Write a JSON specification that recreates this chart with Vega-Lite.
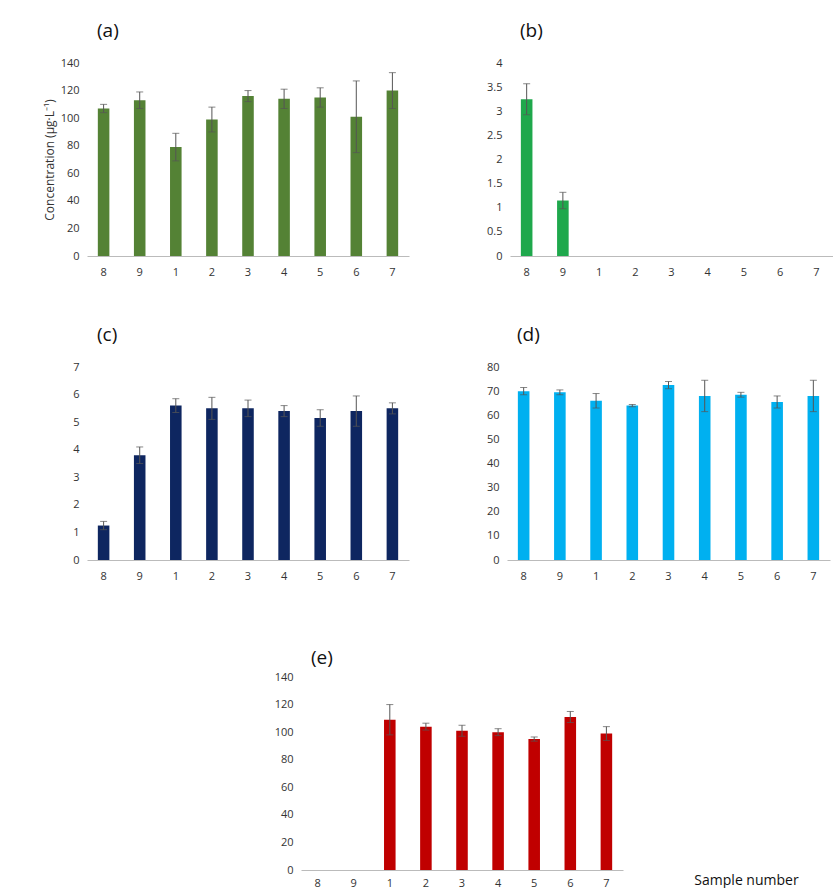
{
  "$schema": "https://vega.github.io/schema/vega-lite/v6.json",
  "background": "white",
  "padding": {"left": 43, "top": 22, "right": 0, "bottom": 0},
  "datasets": {
    "all": [
      {"p": "a", "s": "8", "v": 107, "e": 3}, {"p": "a", "s": "9", "v": 113, "e": 6}, {"p": "a", "s": "1", "v": 79, "e": 10},
      {"p": "a", "s": "2", "v": 99, "e": 9}, {"p": "a", "s": "3", "v": 116, "e": 4}, {"p": "a", "s": "4", "v": 114, "e": 7},
      {"p": "a", "s": "5", "v": 115, "e": 7}, {"p": "a", "s": "6", "v": 101, "e": 26}, {"p": "a", "s": "7", "v": 120, "e": 13},
      {"p": "b", "s": "8", "v": 3.25, "e": 0.32}, {"p": "b", "s": "9", "v": 1.15, "e": 0.17}, {"p": "b", "s": "1", "v": 0, "e": 0},
      {"p": "b", "s": "2", "v": 0, "e": 0}, {"p": "b", "s": "3", "v": 0, "e": 0}, {"p": "b", "s": "4", "v": 0, "e": 0},
      {"p": "b", "s": "5", "v": 0, "e": 0}, {"p": "b", "s": "6", "v": 0, "e": 0}, {"p": "b", "s": "7", "v": 0, "e": 0},
      {"p": "c", "s": "8", "v": 1.25, "e": 0.15}, {"p": "c", "s": "9", "v": 3.8, "e": 0.3}, {"p": "c", "s": "1", "v": 5.6, "e": 0.25},
      {"p": "c", "s": "2", "v": 5.5, "e": 0.4}, {"p": "c", "s": "3", "v": 5.5, "e": 0.3}, {"p": "c", "s": "4", "v": 5.4, "e": 0.2},
      {"p": "c", "s": "5", "v": 5.15, "e": 0.3}, {"p": "c", "s": "6", "v": 5.4, "e": 0.55}, {"p": "c", "s": "7", "v": 5.5, "e": 0.2},
      {"p": "d", "s": "8", "v": 70, "e": 1.5}, {"p": "d", "s": "9", "v": 69.5, "e": 1}, {"p": "d", "s": "1", "v": 66, "e": 3},
      {"p": "d", "s": "2", "v": 64, "e": 0.5}, {"p": "d", "s": "3", "v": 72.5, "e": 1.5}, {"p": "d", "s": "4", "v": 68, "e": 6.5},
      {"p": "d", "s": "5", "v": 68.5, "e": 1}, {"p": "d", "s": "6", "v": 65.5, "e": 2.5}, {"p": "d", "s": "7", "v": 68, "e": 6.5},
      {"p": "e", "s": "8", "v": 0, "e": 0}, {"p": "e", "s": "9", "v": 0, "e": 0}, {"p": "e", "s": "1", "v": 109, "e": 11},
      {"p": "e", "s": "2", "v": 104, "e": 2.5}, {"p": "e", "s": "3", "v": 101, "e": 4}, {"p": "e", "s": "4", "v": 100, "e": 2.5},
      {"p": "e", "s": "5", "v": 95, "e": 1.5}, {"p": "e", "s": "6", "v": 111, "e": 4}, {"p": "e", "s": "7", "v": 99, "e": 5}
    ]
  },
  "config": {
    "font": "Open Sans",
    "view": {"stroke": null},
    "axis": {"grid": false, "ticks": false, "labelFontSize": 11, "labelColor": "#333", "titleFontWeight": "normal", "titleFontSize": 12, "titleColor": "#333", "labelOverlap": false},
    "axisY": {"domain": false, "labelPadding": 8, "format": "~r"},
    "axisX": {"domainColor": "#bbb", "labelAngle": 0, "labelPadding": 10},
    "title": {"anchor": "start", "frame": "group", "fontSize": 19, "fontWeight": "normal", "color": "#111", "dx": 10, "offset": 16},
    "concat": {"spacing": 49}
  },
  "vconcat": [
    {
      "hconcat": [
        {
          "title": "(a)", "width": 322, "height": 193,
          "data": {"name": "all"}, "transform": [{"filter": "datum.p === 'a'"}, {"calculate": "datum.v + datum.e", "as": "hi"}, {"calculate": "datum.v - datum.e", "as": "lo"}],
          "encoding": {"x": {"field": "s", "type": "nominal", "sort": ["8","9","1","2","3","4","5","6","7"], "title": null, "scale": {"paddingInner": 0.68, "paddingOuter": 0.3}}},
          "layer": [
            {"mark": {"type": "bar", "color": "#548235"}, "encoding": {"y": {"field": "v", "type": "quantitative", "scale": {"domain": [0, 140]}, "axis": {"values": [0,20,40,60,80,100,120,140], "labelOverlap": false}, "title": "Concentration (µg·L⁻¹)"}}},
            {"transform": [{"filter": "datum.e > 0"}], "mark": {"type": "errorbar", "ticks": {"size": 7}, "color": "#555"}, "encoding": {"y": {"field": "hi", "type": "quantitative", "axis": {"values": [0,20,40,60,80,100,120,140], "labelOverlap": false}, "title": "Concentration (µg·L⁻¹)"}, "y2": {"field": "lo"}}}
          ]
        },
        {
          "title": "(b)", "width": 323, "height": 193,
          "data": {"name": "all"}, "transform": [{"filter": "datum.p === 'b'"}, {"calculate": "datum.v + datum.e", "as": "hi"}, {"calculate": "datum.v - datum.e", "as": "lo"}],
          "encoding": {"x": {"field": "s", "type": "nominal", "sort": ["8","9","1","2","3","4","5","6","7"], "title": null, "scale": {"paddingInner": 0.68, "paddingOuter": 0.3}}},
          "layer": [
            {"mark": {"type": "bar", "color": "#1fa84c"}, "encoding": {"y": {"field": "v", "type": "quantitative", "scale": {"domain": [0, 4]}, "axis": {"values": [0,0.5,1,1.5,2,2.5,3,3.5,4], "labelOverlap": false}, "title": null}}},
            {"transform": [{"filter": "datum.e > 0"}], "mark": {"type": "errorbar", "ticks": {"size": 7}, "color": "#555"}, "encoding": {"y": {"field": "hi", "type": "quantitative", "axis": {"values": [0,0.5,1,1.5,2,2.5,3,3.5,4], "labelOverlap": false}, "title": null}, "y2": {"field": "lo"}}}
          ]
        }
      ],
      "spacing": 77
    },
    {
      "hconcat": [
        {
          "title": "(c)", "width": 322, "height": 193,
          "data": {"name": "all"}, "transform": [{"filter": "datum.p === 'c'"}, {"calculate": "datum.v + datum.e", "as": "hi"}, {"calculate": "datum.v - datum.e", "as": "lo"}],
          "encoding": {"x": {"field": "s", "type": "nominal", "sort": ["8","9","1","2","3","4","5","6","7"], "title": " ", "axis": {"titlePadding": 8}, "scale": {"paddingInner": 0.68, "paddingOuter": 0.3}}},
          "layer": [
            {"mark": {"type": "bar", "color": "#0e2660"}, "encoding": {"y": {"field": "v", "type": "quantitative", "scale": {"domain": [0, 7]}, "axis": {"values": [0,1,2,3,4,5,6,7], "labelOverlap": false}, "title": null}}},
            {"transform": [{"filter": "datum.e > 0"}], "mark": {"type": "errorbar", "ticks": {"size": 7}, "color": "#555"}, "encoding": {"y": {"field": "hi", "type": "quantitative", "axis": {"values": [0,1,2,3,4,5,6,7], "labelOverlap": false}, "title": null}, "y2": {"field": "lo"}}}
          ]
        },
        {
          "title": "(d)", "width": 323, "height": 193,
          "data": {"name": "all"}, "transform": [{"filter": "datum.p === 'd'"}, {"calculate": "datum.v + datum.e", "as": "hi"}, {"calculate": "datum.v - datum.e", "as": "lo"}],
          "encoding": {"x": {"field": "s", "type": "nominal", "sort": ["8","9","1","2","3","4","5","6","7"], "title": " ", "axis": {"titlePadding": 8}, "scale": {"paddingInner": 0.68, "paddingOuter": 0.3}}},
          "layer": [
            {"mark": {"type": "bar", "color": "#00b0f0"}, "encoding": {"y": {"field": "v", "type": "quantitative", "scale": {"domain": [0, 80]}, "axis": {"values": [0,10,20,30,40,50,60,70,80], "labelOverlap": false}, "title": null}}},
            {"transform": [{"filter": "datum.e > 0"}], "mark": {"type": "errorbar", "ticks": {"size": 7}, "color": "#555"}, "encoding": {"y": {"field": "hi", "type": "quantitative", "axis": {"values": [0,10,20,30,40,50,60,70,80], "labelOverlap": false}, "title": null}, "y2": {"field": "lo"}}}
          ]
        }
      ],
      "spacing": 77
    },
    {
      "hconcat": [
        {"width": 167, "height": 10, "data": {"values": [{"z": 0}]}, "mark": {"type": "point", "opacity": 0}, "encoding": {}},
        {
          "title": {"text": "(e)", "offset": 3}, "width": 322, "height": 193,
          "data": {"name": "all"}, "transform": [{"filter": "datum.p === 'e'"}, {"calculate": "datum.v + datum.e", "as": "hi"}, {"calculate": "datum.v - datum.e", "as": "lo"}],
          "encoding": {"x": {"field": "s", "type": "nominal", "sort": ["8","9","1","2","3","4","5","6","7"], "title": "Sample number", "axis": {"labelPadding": 7, "titleX": 445, "titleY": 3, "titleFontSize": 14, "titleColor": "#111"}, "scale": {"paddingInner": 0.68, "paddingOuter": 0.3}}},
          "layer": [
            {"mark": {"type": "bar", "color": "#c00000"}, "encoding": {"y": {"field": "v", "type": "quantitative", "scale": {"domain": [0, 140]}, "axis": {"values": [0,20,40,60,80,100,120,140], "labelOverlap": false}, "title": null}}},
            {"transform": [{"filter": "datum.e > 0"}], "mark": {"type": "errorbar", "ticks": {"size": 7}, "color": "#555"}, "encoding": {"y": {"field": "hi", "type": "quantitative", "axis": {"values": [0,20,40,60,80,100,120,140], "labelOverlap": false}, "title": null}, "y2": {"field": "lo"}}}
          ]
        }
      ],
      "spacing": 20
    }
  ]
}
